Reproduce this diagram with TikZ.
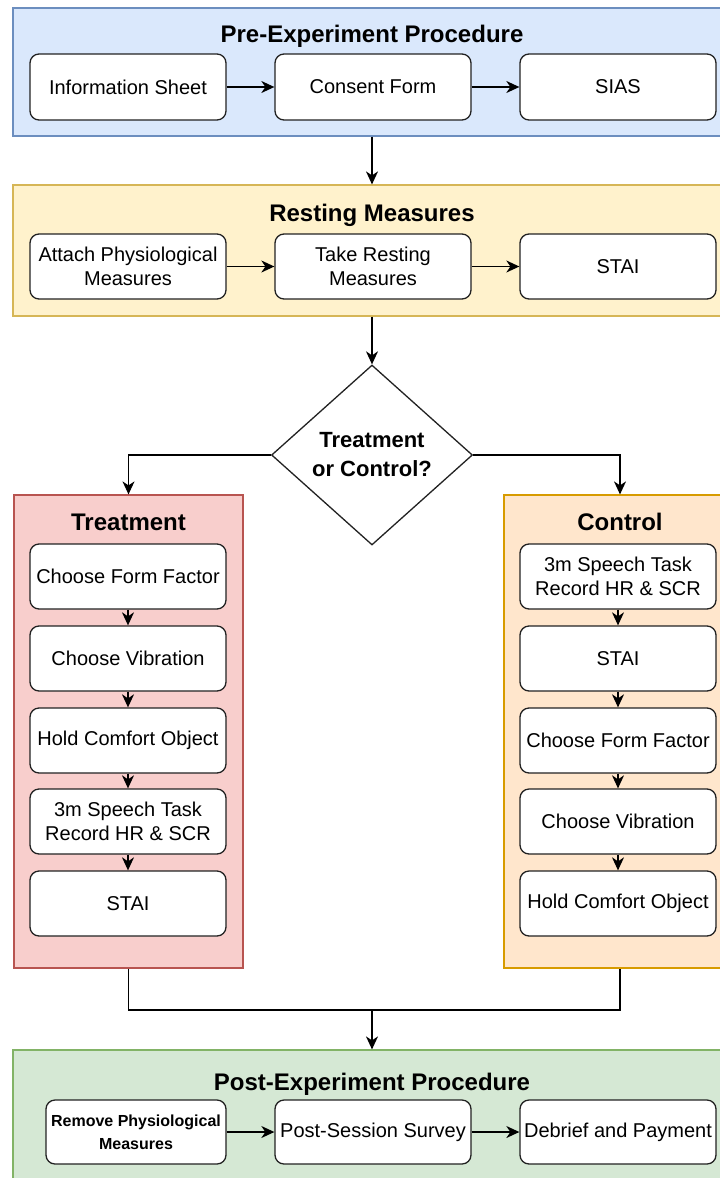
\documentclass[tikz,border=0pt]{standalone}
\usepackage{fontspec}
\setmainfont{Liberation Sans}
\usetikzlibrary{shapes.geometric,arrows.meta}
\definecolor{bluefill}{HTML}{DAE8FC}
\definecolor{bluedraw}{HTML}{6C8EBF}
\definecolor{yelfill}{HTML}{FFF2CC}
\definecolor{yeldraw}{HTML}{D6B656}
\definecolor{redfill}{HTML}{F8CECC}
\definecolor{reddraw}{HTML}{B85450}
\definecolor{orafill}{HTML}{FFE6CC}
\definecolor{oradraw}{HTML}{D79B00}
\definecolor{grefill}{HTML}{D5E8D4}
\definecolor{gredraw}{HTML}{82B366}
\definecolor{ink}{HTML}{222222}
\tikzset{
  stepbox/.style={draw=ink, line width=1.3pt, fill=white, rounded corners=9pt,
    minimum width=196pt, minimum height=65pt, align=center, inner sep=1pt,
    font=\fontsize{20}{24}\selectfont},
  group/.style={line width=1.2pt, minimum width=718pt, inner sep=0pt},
  grouptitle/.style={font=\fontsize{24}{28}\selectfont\bfseries, inner sep=0pt},
  arr/.style={draw=black, line width=1.4pt, -{Stealth[length=13pt,width=12pt,inset=4pt]}},
  conn/.style={draw=black, line width=1.4pt},
  decision/.style={diamond, draw=ink, line width=1.3pt, fill=white,
    minimum width=201pt, minimum height=180pt, inner sep=0pt, align=center,
    font=\fontsize{22}{29}\selectfont\bfseries}
}
\begin{document}
\begin{tikzpicture}[x=1pt,y=-1pt]
\path[use as bounding box] (0,0) rectangle (720,1178);
\clip (0,0) rectangle (720,1178);

% containers
\node[group, draw=bluedraw, fill=bluefill, minimum height=128pt] (pre) at (372,72) {};
\node[group, draw=yeldraw, fill=yelfill, minimum height=131pt] (rest) at (372,250.5) {};
\node[group, draw=reddraw, fill=redfill, minimum width=229pt, minimum height=473pt] (treat) at (128.5,731.5) {};
\node[group, draw=oradraw, fill=orafill, minimum width=232pt, minimum height=473pt] (ctrl) at (620,731.5) {};
\node[group, draw=gredraw, fill=grefill, minimum height=140pt] (post) at (372,1120) {};

% titles
\node[grouptitle] (preT) at (372,36) {Pre-Experiment Procedure};
\node[grouptitle] (restT) at (372,215) {Resting Measures};
\node[grouptitle] (treatT) at (128.5,522) {Treatment};
\node[grouptitle] (ctrlT) at (620,522) {Control};
\node[grouptitle] (postT) at (372,1084) {Post-Experiment Procedure};

% pre row
\node[stepbox, minimum height=66pt] (info) at (128,87) {Information Sheet};
\node[stepbox, minimum height=66pt] (consent) at (373,87) {Consent Form};
\node[stepbox, minimum height=66pt] (sias) at (618,87) {SIAS};

% resting row
\node[stepbox] (attach) at (128,266.5) {Attach Physiological\\Measures};
\node[stepbox] (take) at (373,266.5) {Take Resting\\Measures};
\node[stepbox] (stai0) at (618,266.5) {STAI};

% decision
\node[decision] (dec) at (372,455) {Treatment\\or Control?};

% treatment column
\node[stepbox] (t1) at (128,576.5) {Choose Form Factor};
\node[stepbox] (t2) at (128,658.5) {Choose Vibration};
\node[stepbox] (t3) at (128,740.5) {Hold Comfort Object};
\node[stepbox] (t4) at (128,821.5) {3m Speech Task\\Record HR \& SCR};
\node[stepbox] (t5) at (128,903.5) {STAI};

% control column
\node[stepbox] (c1) at (618,576.5) {3m Speech Task\\Record HR \& SCR};
\node[stepbox] (c2) at (618,658.5) {STAI};
\node[stepbox] (c3) at (618,740.5) {Choose Form Factor};
\node[stepbox] (c4) at (618,821.5) {Choose Vibration};
\node[stepbox] (c5) at (618,903.5) {Hold Comfort Object};

% post row
\node[stepbox, minimum width=180pt, minimum height=64pt, font=\fontsize{16}{23}\selectfont\bfseries] (remove) at (136,1132) {Remove Physiological\\Measures};
\node[stepbox, minimum height=64pt] (survey) at (373,1132) {Post-Session Survey};
\node[stepbox, minimum height=64pt] (debrief) at (618,1132) {Debrief and Payment};

% connectors
\draw[arr] (info) -- (consent);
\draw[arr] (consent) -- (sias);
\draw[arr] (attach) -- (take);
\draw[arr] (take) -- (stai0);
\draw[arr] (pre.south) -- (rest.north);
\draw[arr] (rest.south) -- (dec.north);
\draw[arr] (dec.west) -| (treat.north);
\draw[arr] (dec.east) -| (ctrl.north);
\draw[arr] (t1) -- (t2);
\draw[arr] (t2) -- (t3);
\draw[arr] (t3) -- (t4);
\draw[arr] (t4) -- (t5);
\draw[arr] (c1) -- (c2);
\draw[arr] (c2) -- (c3);
\draw[arr] (c3) -- (c4);
\draw[arr] (c4) -- (c5);
\coordinate (merge) at (372,1010);
\draw[conn] (treat.south) |- (merge) -| (ctrl.south);
\draw[arr] (merge) -- (post.north);
\draw[arr] (remove) -- (survey);
\draw[arr] (survey) -- (debrief);
\end{tikzpicture}
\end{document}
